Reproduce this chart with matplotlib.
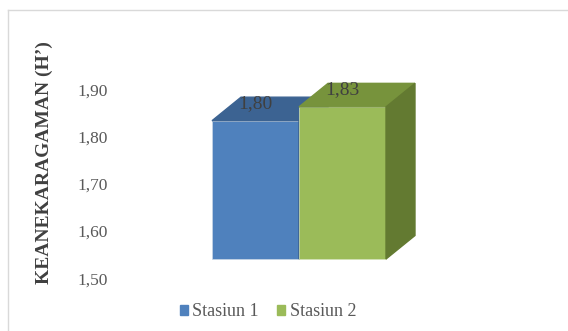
import matplotlib.pyplot as plt
from matplotlib.patches import Patch

# data
stations = ["Stasiun 1", "Stasiun 2"]
values = [1.80, 1.83]
yticks = [1.50, 1.60, 1.70, 1.80, 1.90]
ylabel = "KEANEKARAGAMAN (H’)"

# colours: front, top, side
front_colors = ["#4f81bd", "#9bbb59"]
top_colors = ["#3c6392", "#77933c"]
side_colors = ["#385d8a", "#637a31"]

plt.rcParams['font.family'] = ['Liberation Serif', 'DejaVu Serif']

fig = plt.figure(figsize=(5.68, 3.31), dpi=100)
pos = [130 / 568, 41 / 331, 430 / 568, 248 / 331]

# axis with the tick labels (back wall)
ax = fig.add_axes(pos)
ax.set_ylim(1.475, 2.0)
ax.set_yticks(yticks)
ax.set_yticklabels([f"{t:.2f}".replace(".", ",") for t in yticks])
ax.tick_params(axis="y", length=0, pad=16, labelsize=12.5, labelcolor="#595959")
ax.set_xticks([])
ax.patch.set_visible(False)
for s in ax.spines.values():
    s.set_visible(False)

# axis for the 3d bars (front of floor sits lower on the page)
bx = fig.add_axes(pos)
bx.set_xlim(-1.443, 3.5)
bx.set_ylim(1.4328, 1.9707)
bx.axis("off")

dx, dy = 0.333, 0.051  # 3d depth offset
width = 1.0
base = yticks[0]

for i, (name, v) in enumerate(zip(stations, values)):
    left = i - width / 2
    right = i + width / 2
    bx.bar(i, v - base, bottom=base, width=width, color=front_colors[i],
           edgecolor="#c9d6e6" if i == 0 else "#d4e2b8", linewidth=0.5, zorder=2 + 2 * i)
    bx.fill([left, right, right + dx, left + dx], [v, v, v + dy, v + dy],
            color=top_colors[i], zorder=2 + 2 * i)
    bx.fill([right, right + dx, right + dx, right], [base, base + dy, v + dy, v],
            color=side_colors[i], zorder=2 + 2 * i)
    bx.annotate(f"{v:.2f}".replace(".", ","), (i, v), xytext=(0, 12.5),
                textcoords="offset points", ha="center", va="center",
                fontsize=14, color="#404040", zorder=10)

fig.text(44 / 568, 1 - 163 / 331, ylabel, rotation=90, ha="center", va="center",
         fontsize=14, fontweight="bold", color="#404040")

handles = [Patch(color=c) for c in front_colors]
fig.legend(handles, stations, loc="center", bbox_to_anchor=(268 / 568, 1 - 312 / 331),
           ncol=2, frameon=False, fontsize=13, labelcolor="#595959",
           handlelength=0.46, handleheight=0.46, handletextpad=0.25, columnspacing=1.0)

# chart area border
fig.add_artist(plt.Line2D([8 / 568, 8 / 568], [0, 1 - 10 / 331], color="#d9d9d9", lw=1))
fig.add_artist(plt.Line2D([8 / 568, 1], [1 - 10 / 331, 1 - 10 / 331], color="#d9d9d9", lw=1))

fig.savefig("out.png", dpi=100)
